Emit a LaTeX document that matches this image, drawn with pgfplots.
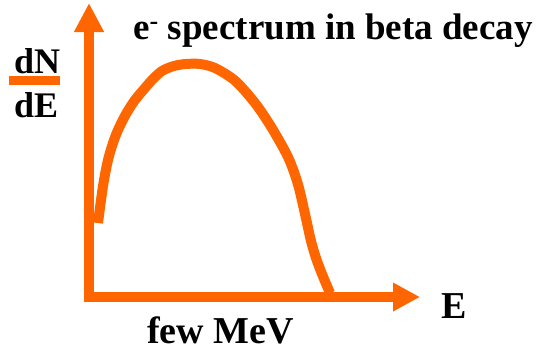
\documentclass[border=0pt]{standalone}
\usepackage{pgfplots}
\pgfplotsset{compat=1.18}
\usepackage{fontspec}
\setmainfont{Liberation Serif}[BoldFont={Liberation Serif Bold}]
\usetikzlibrary{arrows.meta}
\definecolor{beta}{RGB}{255,102,0}
\newcommand\lblfont[1]{\bfseries\fontsize{#1}{#1}\selectfont}
\begin{document}
\begin{tikzpicture}
\begin{axis}[
  width=538pt, height=349pt, scale only axis,
  xmin=0, xmax=538, ymin=0, ymax=349, y dir=reverse,
  hide axis, clip=false,
]
% spectrum curve
\addplot[beta, line width=10pt, smooth, tension=0.55, line join=round] coordinates {
(98,223) (101,200) (104,180) (108,160) (113,143) (118,130) (126,114) (135,100)
(145,88) (152,80) (162,71) (174,66) (186,64) (200,64) (215,68) (233,79)
(245,91) (258,107) (270,125) (280,142) (288,157) (294,172) (299,188) (303,205)
(307,223) (311,241) (316,258) (322,274) (330,293)
};
% axes arrows
\draw[beta, line width=10pt, -{Triangle[length=29pt,width=28pt]}] (axis cs:89,302) -- (axis cs:89,3);
\draw[beta, line width=10pt, -{Triangle[length=27pt,width=27pt]}] (axis cs:84,297) -- (axis cs:420,297);
% dN/dE label
\draw[beta, line width=9pt] (axis cs:9,80.5) -- (axis cs:60,80.5);
\node[anchor=base west, inner sep=0pt, font=\lblfont{36}] at (axis cs:14,73) {dN};
\node[anchor=base west, inner sep=0pt, font=\lblfont{36}] at (axis cs:14,117) {dE};
% title
\node[anchor=base west, inner sep=0pt, font=\lblfont{37}] at (axis cs:133,39) {e\textsuperscript{-} spectrum in beta decay};
% axis labels
\node[anchor=base west, inner sep=0pt, font=\lblfont{38}] at (axis cs:441,318) {E};
\node[anchor=base west, inner sep=0pt, font=\lblfont{38}] at (axis cs:147,343) {few MeV};
\coordinate (bl) at (axis cs:0,349);
\coordinate (tr) at (axis cs:538,0);
\end{axis}
\pgfresetboundingbox
\path (bl) rectangle (tr);
\end{tikzpicture}
\end{document}
